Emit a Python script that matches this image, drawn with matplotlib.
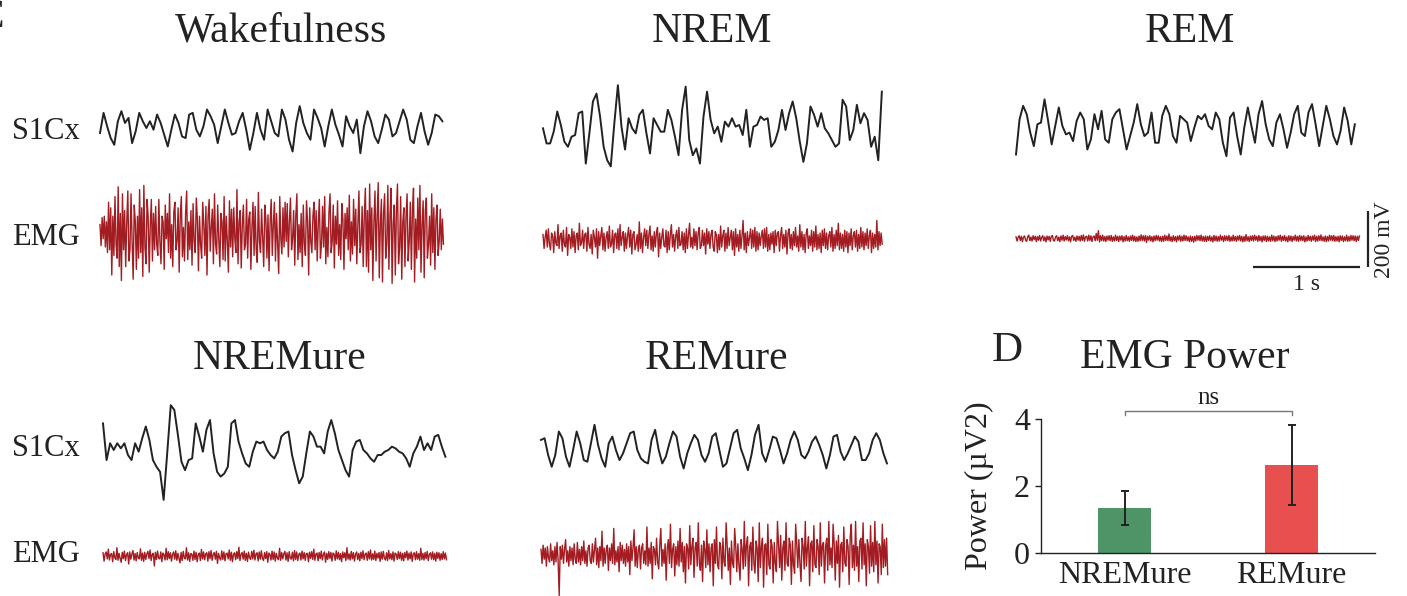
import matplotlib.pyplot as plt
import numpy as np

plt.rcParams['font.family'] = ['Liberation Serif', 'DejaVu Serif']

# sampling rates of the traces
S1_FS = 30.0
EMG_FS = 100.0

# S1Cx traces (mV)
s1_wake = [-18, 54, 6, -36, -60, 24, 60, 18, 36, -54, -12, 54, 24, 0, 24, -6, 48, 18, -24, -66,
           -6, 48, 18, -30, -36, 48, 54, -6, -30, 6, 66, 42, 12, -54, 6, 66, 18, -24, -18, 24,
           54, -6, -78, -18, 54, -6, -42, 66, 24, -18, -30, 66, 30, -42, -84, 18, 78, 18, -18, -42,
           66, 36, 0, -66, 6, 66, 12, -24, -66, 42, 6, -18, 30, -90, 6, 60, 24, -30, -54, -6,
           48, 30, -30, -18, 24, 66, 30, -42, -54, 6, 54, -12, -60, -18, 48, 42, 24]
s1_nrem = [6, -48, -48, -6, 66, 18, -42, -60, -24, -18, 60, 66, -120, -12, 102, 130, 48, -60, -108, -130,
           24, 160, 12, -70, 42, 6, -12, 54, 72, -12, -84, 42, 18, -6, -6, 72, 36, -24, -90, 72,
           155, -36, -90, -66, -120, 48, 137, 36, -12, 12, -42, 30, 12, 42, 12, 18, -18, 72, -60, 12,
           18, 48, 36, 42, -60, -42, 0, 72, 0, 60, 102, 42, -42, -114, -48, 84, 54, 12, 60, 6,
           -12, -36, -60, -48, 108, 84, -36, 0, 90, 24, 60, 36, -60, -24, -108, 137]
s1_rem = [-84, 42, 90, 60, -6, -54, 24, 30, 113, 36, -48, 18, 84, 18, -12, -6, -36, 36, 66, 42,
          -66, -30, 60, 6, 72, -30, -42, 42, 66, 78, 6, -66, -18, 30, 96, 24, -18, -6, 66, -42,
          -42, 54, 90, 60, -18, -42, 54, 42, 30, -36, 12, 54, 42, 60, 18, 6, 66, 42, -42, -90,
          48, 66, -18, -84, 12, 84, 18, -42, 60, 107, 24, -30, -54, 30, 60, 6, -60, -6, 60, 90,
          -6, -18, 66, 96, 24, -54, 18, 90, 42, -18, -48, 0, 84, 36, -48, 24]
s1_nremure = [95, -36, 24, 0, 24, 6, 24, -18, -36, 24, -6, 42, 84, 36, -36, -60, -78, -178, -12, 160,
              143, 54, -42, -72, -36, -30, 95, 48, -6, 72, 107, -12, -78, -95, -84, -60, 95, 107, 30, -12,
              -48, -60, -6, 30, 24, 30, 0, -18, -30, -6, 48, 60, 66, -18, -72, -119, -95, -12, 66, 48,
              12, 12, -12, 66, 107, 60, 0, -36, -72, -95, 0, 30, 36, 0, -12, -30, -42, -18, -18, -6,
              0, 12, 6, -6, -12, -30, -60, -12, 12, 48, 0, 24, 0, 48, 54, 12, -24]
s1_remure = [36, 42, -18, -60, -18, 66, 42, -24, -60, 0, 66, 24, -36, -42, 24, 90, 18, -30, -60, 24,
             48, 0, -36, -12, 24, 60, 66, 0, -30, -42, -48, 36, 72, 0, -48, -24, 24, 66, 48, -24,
             -66, -12, 24, 54, 36, -18, -42, -12, 48, 60, 0, -60, -48, 6, 60, 72, 6, -30, -72, -18,
             54, 90, -12, -42, 0, 48, 42, 0, -48, -12, 36, 66, 36, -18, -30, -6, 30, 48, 18, -18,
             -66, -18, 48, 54, -6, -36, -12, 18, 48, 30, -36, -36, -12, 36, 60, 36, -12, -48]

# EMG traces (mV)
emg_wake = [30, -45, 55, -20, 60, -50, 40, -70, 110, -60, 90, -150, 60, -80, 130, -40, -90, 165, -120, 70,
            -170, 140, -60, 80, -120, 40, 150, -100, -60, 140, -30, -165, 100, 40, -130, 60, -90, 155, -70, 90,
            -155, 170, -50, -110, 120, 60, -140, 30, 120, -100, 70, -60, 95, -40, -80, 120, -30, -110, 60, 40,
            -130, 100, -20, 70, -70, 140, -90, 30, -120, 75, 110, -60, -30, 90, -140, 60, 130, -85, 20, -100,
            70, 150, -95, 40, -60, 80, -115, 105, -30, -70, 125, 50, -135, 60, -40, -90, 110, 30, -80, 95,
            -150, 60, 120, -65, 20, 85, -110, 140, -40, -75, 100, -20, -120, 70, 40, -95, 130, -100, 60, -30,
            -140, 115, -50, 85, -85, 90, -20, -70, 155, -110, 40, 80, -125, 30, 100, -60, -40, 120, -90, 50,
            75, -130, 20, 110, -80, 95, -60, -105, 145, -30, -70, 85, -20, -120, 100, 50, -90, 65, -135, 40,
            120, -80, 30, 110, -100, 70, -40, -145, 130, -20, -75, 90, -50, 110, -30, 105, -85, 40, 125, -60,
            -20, 80, -115, 60, 140, -95, 30, -70, 70, -120, 100, -40, -80, 115, 40, -150, 90, -30, -70, 60,
            110, -60, 80, -100, 35, 120, -90, -40, 95, -50, 130, -110, 20, -85, 75, 140, -70, -30, 100, -125,
            60, -40, 115, -80, 30, -95, 105, 50, -130, 70, -20, 90, -60, 135, -100, 40, -75, 120, -45, 85,
            -110, 30, 150, -70, -40, 95, -120, 60, 160, -120, 80, -140, 175, -60, 90, -170, 40, 150, -100, 60,
            180, -160, 30, 120, -175, 70, 140, -90, -40, 170, -130, 60, 160, -180, 30, 100, -150, 80, 175, -110,
            -50, 130, -165, 40, 90, -120, 60, 140, -100, -30, 110, -130, 80, 160, -175, 50, -90, 125, -60, 170,
            -140, 30, 115, -160, 80, 125, -90, -40, 60, -115, 140, -70, 90, -130, 50, 100, -80, -30, 85, -60,
            50, -40]
emg_nrem = [20, -30, 10, 35, -25, 40, -15, -35, 25, 15, -45, 30, -10, -20, 55, -30, 15, 25, -40, 35,
            -15, -25, 45, -55, 20, 10, -30, 40, -25, 30, -45, 15, 25, -35, 60, -20, -10, 35, -30, 20,
            25, -40, 45, -15, -30, 20, -50, 35, 10, -25, 40, -65, 30, -20, 15, 45, -35, 25, -40, 10,
            30, -30, 50, -25, -15, 35, -45, 20, 25, -30, 40, -35, 55, -20, 10, 30, -40, 25, -30, 15,
            45, -25, 35, -50, 20, 30, -35, -15, 20, -40, 65, -30, 25, -45, 10, 40, -20, 35, -30, 20,
            50, -35, 15, -40, 30, -25, 25, 45, -60, 25, -30, 10, 40, -20, -25, 35, -45, 30, -35, 20,
            55, -25, 20, -40, 15, 35, -30, 45, -20, -15, 30, -35, 25, -45, 40, -30, 20, 60, -25, 10,
            -30, 40, -20, 30, -35, 25, 45, -30, -20, 35, -20, 25, -50, 40, -15, 30, -30, 20, 35, -25,
            -40, 30, 20, -45, 20, -35, 50, -25, 15, 35, -40, 25, -30, 45, -20, 10, 35, -35, 30, -55,
            40, -25, 20, -40, 35, -30, 15, 70, -35, 25, -45, 30, -20, 10, 40, -30, 35, -25, 45, -40,
            30, -35, 25, -20, 15, 35, -30, 40, -25, 45, -40, 20, -35, 25, -15, 30, -45, 35, -20, 25,
            30, -40, 15, 45, -30, 20, -25, 35, -50, 25, 40, -30, 20, -35, 30, -20, 45, -25, 15, -40,
            55, -25, 30, -35, 20, -45, 25, 40, -30, 15, -20, 35, -40, 30, -25, 50, -35, 20, -30, 25,
            -45, 35, -20, 40, -30, 25, -35, 15, 30, -25, 45, -40, 20, -30, 35, -20, 60, -35, 25, -30,
            20, -40, 35, -25, 30, -45, 25, -20, 40, -35, 15, 30, -25, 35, -40, 20, -30, 45, -25, 30,
            -35, 25, -20, 40, -30, 15, 35, -45, 25, -30, 20, -25, 70, -35, 30, -20, 25, -15]
emg_rem = [6, -9, 4, 10, -7, 8, -11, 5, 9, -6, -10, 7, 12, -8, 5, -9, 10, -4, 8, -11,
           7, -6, 11, -9, 4, 10, -8, 6, -12, 9, -5, 8, -10, 7, 11, -7, -9, 6, 10, -8,
           5, -11, 9, -6, 12, -9, 7, -5, 10, -8, 6, -12, 8, 11, -7, 5, -10, 9, -6, 8,
           -9, 11, -7, 13, -10, 6, 8, -9, 12, -7, 10, -11, 6, 9, -8, 18, -6, 28, -12, 10,
           -8, 12, -9, 7, -11, 9, -6, 10, -8, 11, -10, 6, -9, 12, -7, 8, -11, 9, -6, 10,
           -12, 7, -9, 11, -8, 6, -10, 9, -7, 12, -9, 8, -11, 6, -10, 9, -8, 13, -7, 10,
           -9, 11, -14, 8, -6, 10, -9, 7, -12, 9, -8, 11, -6, 10, -9, 7, -11, 8, -10, 12,
           -7, 9, -8, 16, -9, 6, -11, 10, -8, 7, -12, 9, -6, 11, -10, 8, -9, 12, -7, 10,
           -8, 6, -11, 9, -10, 7, -13, 8, -9, 11, -6, 10, -8, 12, -9, 7, -10, 9, -11, 8,
           -7, 10, -9, 6, -12, 11, -8, 9, -10, 7, -9, 12, -6, 8, -11, 10, -7, 9, -8, 11,
           -10, 6, -9, 12, -8, 7, -10, 9, -6, 11, -9, 8, -12, 7, -10, 14, -8, 6, -11, 9,
           -7, 10, -9, 12, -6, 8, -10, 11, -8, 7, -12, 9, -7, 10, -11, 8, -9, 6, -10, 12,
           -8, 9, -11, 7, -9, 10, -6, 12, -10, 8, -7, 11, -9, 6, -12, 10, -8, 9, -11, 7,
           -6, 12, -9, 8, -10, 11, -7, 9, -8, 10, -12, 6, -9, 11, -7, 8, -10, 9, -6, 12,
           -11, 8, -9, 10, -7, 13, -8, 6, -10, 9, -11, 7, -9, 12, -6, 10, -8, 11, -10, 7,
           -9, 8, -12, 10, -7, 9, -11, 6, -8, 12, -10, 7, -9, 11, -6, 10, -8, 9, -11, 8,
           -7, 9]
emg_nremure = [12, -18, 8, 15, -10, 25, -14, 6, 9, -20, 16, -5, -12, 30, -15, 10, -8, -22, 14, -9,
               18, -16, 5, 12, -28, 15, -11, 7, 20, -14, 9, -17, 13, -6, -10, 26, -15, 11, -19, 14,
               -12, 8, 17, -9, 22, -16, 6, 10, -35, 14, -12, 18, -7, -10, 15, -20, 11, 5, -14, 28,
               -13, 16, -9, 12, -18, 6, 15, -11, 19, -15, 10, -8, -24, 13, -16, 17, -6, -10, 30, -14,
               12, -19, 9, 7, -15, 18, -12, 14, -20, 5, 11, -16, 24, -10, 15, -13, 8, 12, -18, 16,
               -9, 20, -15, 6, 13, -11, 17, -26, 10, -7, -14, 19, -12, 15, -17, 8, 11, -10, 22, -15,
               14, -20, 7, 12, -13, 16, -9, 32, -16, 6, 13, -11, 18, -15, 10, -19, 14, -6, -12, 17,
               -10, 21, -14, 8, 12, -17, 15, -11, 19, -7, -16, 13, -9, 16, -22, 11, 6, -14, 18, -12,
               15, -18, 10, -6, -13, 28, -15, 13, -10, 8, 17, -14, 12, -19, 16, -7, -11, 14, -17, 20,
               -12, 15, -16, 6, 11, -14, 18, -10, 13, -15, 9, 10, -20, 14, -8, 16, -12, 25, -15, 7,
               11, -17, 13, -9, 18, -14, 6, 15, -22, 10, -12, 16, -8, 13, -18, 11, 7, -15, 19, -10,
               14, -13, 9, -20, 15, -6, 12, -16, 30, -11, 8, -14, 17, -10, 13, -18, 6, 15, -12, 10,
               -17, 14, -9, 19, -13, 7, 11, -15, 16, -10, 22, -14, 8, -12, 18, -16, 10, -7, 13, -19,
               15, -11, 17, -8, -14, 12, -16, 20, -10, 9, -13, 15, -18, 11, 7, -12, 16, -9, 14, -15,
               10, -17, 13, -6, 18, -14, 11, -10, 15, -19, 8, 12, -13, 16, -11, 9, -15, 28, -12, 10,
               -14, 13, -9, 17, -16, 6, 12, -11, 15, -13, 10, -18, 14, -8, 12, -15, 9, -12, 16, -10,
               11, -13]
emg_remure = [20, -30, 35, -15, 25, -40, 30, -10, -25, 40, -20, 15, -35, 30, -25, 45, -20, -145, 30, -15,
              35, -30, 20, 55, -25, 15, -40, 30, -20, 25, -35, 40, -15, -30, 45, -25, 20, -35, 30, -20,
              50, -30, 15, -40, 25, 35, -20, -30, 40, -25, 20, 60, -35, 25, -45, 30, -20, 85, -40, 25,
              -30, 20, 35, -55, 25, -20, 40, -30, 95, -35, 15, -25, 30, -60, 45, -20, 35, -30, 20, -40,
              40, -25, 30, -70, 50, -20, 25, 90, -40, 30, -45, 20, 35, -50, 25, 40, -30, 15, -35, 100,
              -40, 25, -30, 45, -85, 30, 20, -35, 60, -25, -50, 35, 95, -40, 20, -30, 40, -90, 25, 55,
              -30, 110, -45, 20, 40, -75, 30, -35, 50, -40, 95, -25, 45, -60, 30, -100, 40, 25, -50, 105,
              -35, 30, 60, -80, 25, 45, -40, 115, -30, -55, 35, -95, 50, 20, -45, 90, -35, 40, -60, 25,
              40, -110, 55, -30, 100, -35, -50, 45, 30, -85, 60, -25, -40, 115, 35, -55, 25, -105, 50, -30,
              -45, 95, 30, -60, 40, -35, -90, 55, 20, -50, 120, -40, 35, 65, -110, 30, 45, -55, 100, -30,
              -65, 50, 25, -95, 115, -45, 30, 60, -115, 35, 40, -70, 110, -35, -50, 55, 30, -100, 45, -30,
              -60, 120, 35, -45, 70, -90, 25, 50, -55, 115, -30, -40, 60, 35, -105, 50, -35, -65, 110, 40,
              -45, 55, -30, -95, 60, 30, -50, 120, -40, 25, 65, -110, 40, 50, -60, 105, -35, -45, 55, 30,
              -70, 115, -40, 35, 45, -100, 30, 60, -55, 120, -35, 25, -45, 110, 40, -90, 50, -30, 70, -115,
              35, 45, -60, 100, -30, -40, 55, 30, -105, 65, 110, -45, 35, -55, 120, -40, 30, -95, 50, 60,
              -50, 115, -35, 40, -110, 55, 30, -65, 105, -40, 45, -60, 120, -35, 50, -100, 40, 30, -70, 110,
              -45, 55, -40, 60, -70]

# EMG power bar chart
bar_labels = ["NREMure", "REMure"]
bar_means = [1.35, 2.63]
bar_errs = [0.50, 1.20]

# ---- layout ----
W, H = 1407, 596
fig = plt.figure(figsize=(W / 100, H / 100), dpi=100)

BLACK = '#222222'
EMG_RED = '#a31c22'
PX_PER_S = 107.0
PX_PER_MV = 0.28
T0, T1 = -0.05, 3.6
V0, V1 = -620, 230


def trace_axes(x_px, y_px):
    # x_px: pixel of t=0, y_px: pixel of 0 mV on the S1Cx line
    left = x_px + T0 * PX_PER_S
    top = y_px - V1 * PX_PER_MV
    w = (T1 - T0) * PX_PER_S
    h = (V1 - V0) * PX_PER_MV
    ax = fig.add_axes([left / W, 1 - (top + h) / H, w / W, h / H])
    ax.set_xlim(T0, T1)
    ax.set_ylim(V0, V1)
    ax.axis('off')
    return ax


panels = [
    # title, s1, emg, x0, baseline, emg offset (mV), title x, title baseline
    ("Wakefulness", s1_wake, emg_wake, 100, 128, 375, 281, 42),
    ("NREM", s1_nrem, emg_nrem, 543, 130, 393, 712, 42),
    ("REM", s1_rem, emg_rem, 1016, 131, 384, 1190, 42),
    ("NREMure", s1_nremure, emg_nremure, 103, 450, 379, 280, 369),
    ("REMure", s1_remure, emg_remure, 541, 450, 375, 717, 369),
]

axes = {}
for title, s1, emg, x0, y0, off, tx, ty in panels:
    ax = trace_axes(x0, y0)
    t = np.arange(len(s1)) / S1_FS
    ax.plot(t, s1, color=BLACK, lw=1.4)
    te = np.arange(len(emg)) / EMG_FS
    ax.plot(te, np.array(emg) - off, color=EMG_RED, lw=1.0)
    fig.text(tx / W, 1 - ty / H, title, ha='center', va='baseline', fontsize=30, color=BLACK)
    axes[title] = ax

# row labels
for txt, y in [('S1Cx', 139), ('EMG', 245), ('S1Cx', 456), ('EMG', 562)]:
    fig.text(12 / W, 1 - y / H, txt, ha='left', va='baseline', fontsize=22, color=BLACK)

# scale bar in the REM panel
ax = axes["REM"]
sb_t, sb_v = 2.215, -487
ax.plot([sb_t, sb_t + 1.0], [sb_v, sb_v], color=BLACK, lw=1.6, solid_capstyle='butt')
ax.plot([3.29, 3.29], [sb_v, sb_v + 200], color=BLACK, lw=1.6, solid_capstyle='butt')
ax.text(sb_t + 0.5, sb_v - 25, "1 s", ha='center', va='top', fontsize=17, color=BLACK)
ax.text(3.44, sb_v + 100, "200 mV", ha='center', va='center', rotation=90, fontsize=17, color=BLACK)

# panel letters
fig.text(-25 / W, 1 - 28 / H, "C", ha='left', va='baseline', fontsize=31, color=BLACK)
fig.text(1007 / W, 1 - 361 / H, "D", ha='center', va='baseline', fontsize=31, color=BLACK)
fig.text(1185 / W, 1 - 368 / H, "EMG Power", ha='center', va='baseline', fontsize=30, color=BLACK)

# bar chart
bx = fig.add_axes([1041 / W, 1 - 553 / H, 334 / W, 134 / H])
xpos = np.arange(len(bar_labels))
bx.bar(xpos, bar_means, width=0.315, color=['#4e9467', '#e85050'])
bx.errorbar(xpos, bar_means, yerr=bar_errs, fmt='none', ecolor=BLACK, elinewidth=1.4,
            capsize=3, capthick=1.4)
bx.set_xlim(-0.5, 1.5)
bx.set_ylim(0, 4)
bx.set_yticks([0, 2, 4])
bx.set_xticks(xpos)
bx.set_xticklabels(bar_labels)
bx.tick_params(axis='x', length=0, pad=6, labelsize=23, colors=BLACK)
bx.tick_params(axis='y', length=4, width=1, pad=4, labelsize=23, colors=BLACK)
for s in ['top', 'right']:
    bx.spines[s].set_visible(False)
for s in ['left', 'bottom']:
    bx.spines[s].set_linewidth(1.0)
    bx.spines[s].set_color(BLACK)
bx.set_ylabel("Power (\u00b5V2)", fontsize=23, color=BLACK, labelpad=14)
# significance bracket
bx.plot([0, 0, 1, 1], [4.13, 4.25, 4.25, 4.13], color='#777777', lw=1.0, clip_on=False)
bx.text(0.5, 4.3, "ns", ha='center', va='bottom', fontsize=18, color=BLACK)

fig.savefig('out.png', dpi=100)
